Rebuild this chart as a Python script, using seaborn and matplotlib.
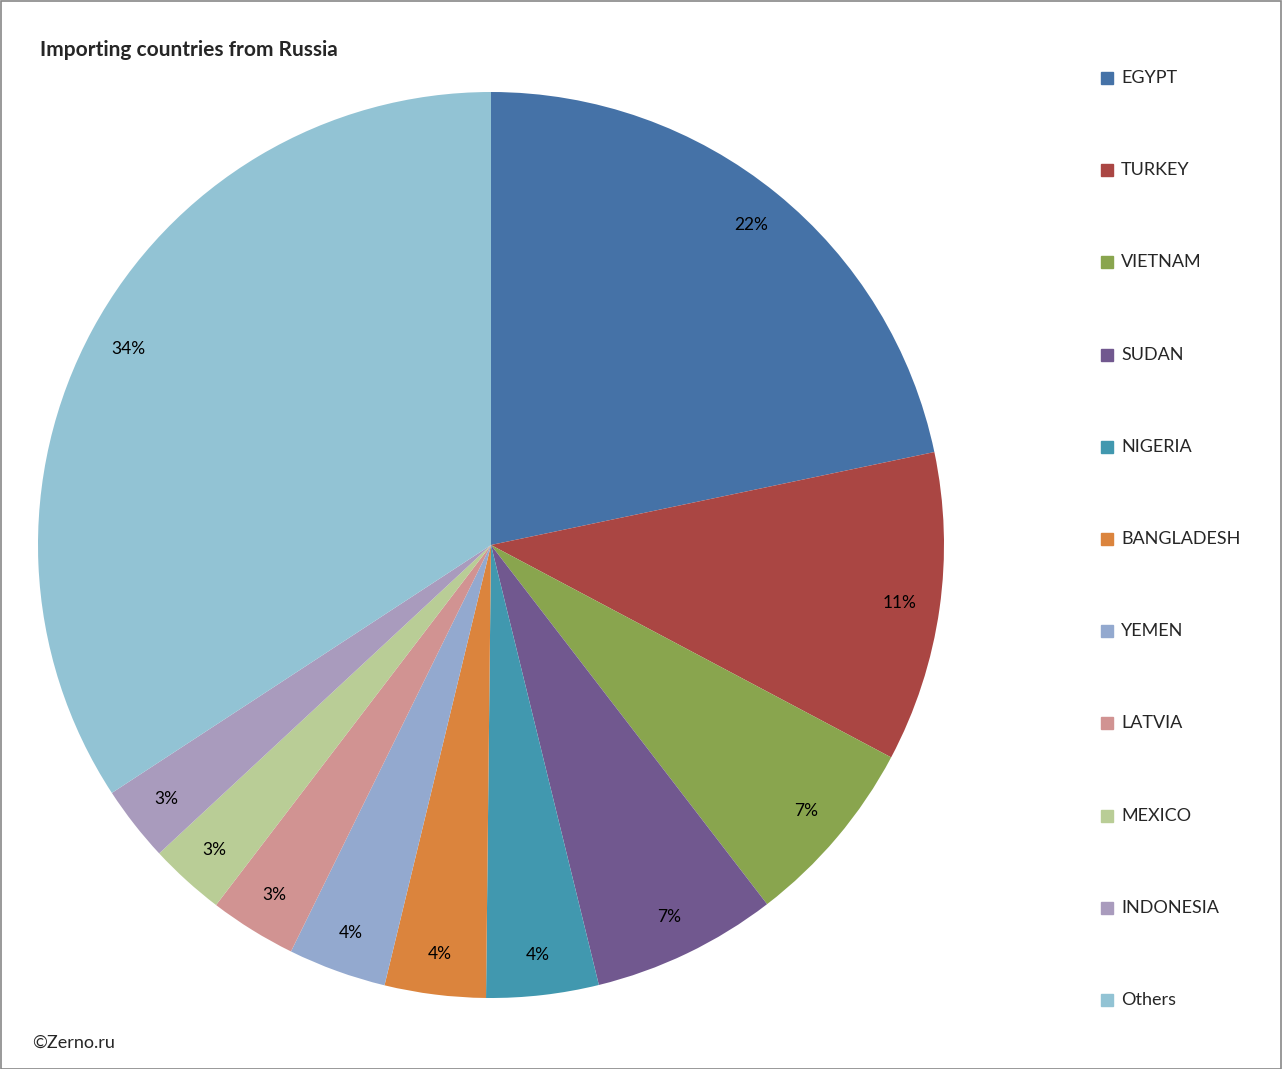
import matplotlib
matplotlib.use("Agg")
import matplotlib.pyplot as plt
import seaborn as sns
from matplotlib.patches import Rectangle

sns.set_style("white")
plt.rcParams["font.family"] = "Lato"

countries = ["EGYPT", "TURKEY", "VIETNAM", "SUDAN", "NIGERIA", "BANGLADESH",
             "YEMEN", "LATVIA", "MEXICO", "INDONESIA", "Others"]
shares = [21.7, 11.05, 6.8, 6.6, 4.0, 3.6, 3.5, 3.1, 2.7, 2.7, 34.2]
colors = ["#4572A7", "#AA4643", "#89A54E", "#71588F", "#4198AF", "#DB843D",
          "#93A9CF", "#D19392", "#B9CD96", "#A99BBD", "#92C3D4"]

W, H = 1282, 1069
fig = plt.figure(figsize=(W / 100, H / 100), dpi=100)
ax = fig.add_axes([38 / W, 92 / H - 21 / H, 906 / W, 906 / H])
ax.pie(shares, colors=colors, startangle=90, counterclock=False,
       autopct="%1.0f%%", pctdistance=0.91,
       textprops={"fontsize": 12.5, "color": "black"},
       wedgeprops={"linewidth": 0})
ax.set_xlim(-1, 1)
ax.set_ylim(-1, 1)
ax.set_aspect("equal")
ax.axis("off")

fig.text(40 / W, 1 - 50 / H, "Importing countries from Russia",
         fontsize=15, fontweight="bold", va="center")
fig.text(32 / W, 1 - 1043 / H, "\u00a9Zerno.ru", fontsize=13, va="center")

for i, (name, c) in enumerate(zip(countries, colors)):
    y = 78 + i * 92.2
    fig.patches.append(Rectangle(((1101) / W, 1 - (y + 6) / H), 12 / W, 12 / H,
                                 transform=fig.transFigure, color=c))
    fig.text(1121 / W, 1 - y / H, name, fontsize=13, va="center")

fig.patches.append(Rectangle((0.5 / W, 0.5 / H), 1 - 1.5 / W, 1 - 1.5 / H,
                             transform=fig.transFigure, fill=False,
                             edgecolor="#888888", linewidth=1.2))
fig.savefig("out.png", dpi=100)
